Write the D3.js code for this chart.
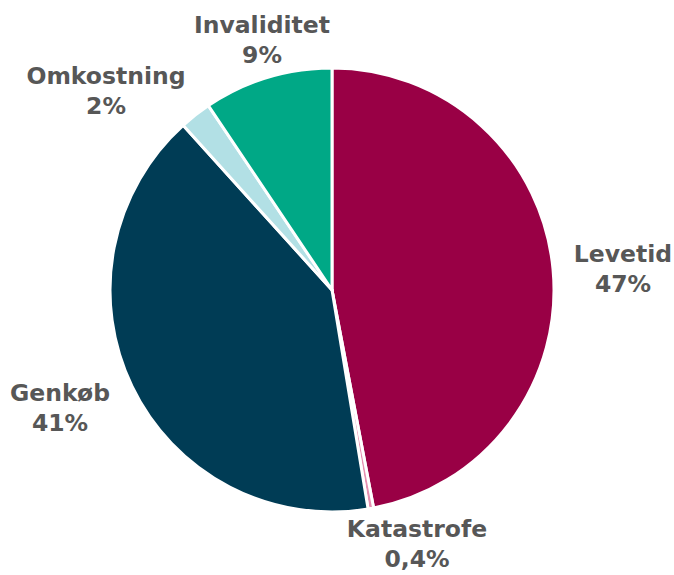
<!DOCTYPE html>
<html><head><meta charset="utf-8">
<script src="https://cdn.jsdelivr.net/npm/d3@7"></script>
<style>body{margin:0;background:#fff}svg{display:block}</style>
</head><body>
<svg id="c" width="674" height="575"></svg>
<script>
const categories = ["Levetid", "Katastrofe", "Genkøb", "Omkostning", "Invaliditet"];
const values = [47.0, 0.4, 40.9, 2.3, 9.4];
const valueLabels = ["47%", "0,4%", "41%", "2%", "9%"];
const colors = ["#990045", "#e58fb0", "#003c55", "#b2e0e5", "#00a886"];
// label anchor positions (center x, baseline of first line)
const labelPos = [[623, 262], [417, 537], [60, 401], [106, 84], [262, 33]];

const svg = d3.select("#c");
const cx = 332, cy = 290, r = 222;
const pie = d3.pie().sort(null).value(d => d.v);
const arc = d3.arc().innerRadius(0).outerRadius(r);
const data = categories.map((c, i) => ({c, v: values[i], i}));
const g = svg.append("g").attr("transform", `translate(${cx},${cy})`);
g.selectAll("path").data(pie(data)).join("path")
  .attr("d", arc)
  .attr("fill", d => colors[d.data.i])
  .attr("stroke", "#fff").attr("stroke-width", 3).attr("stroke-linejoin", "round");

const lab = svg.append("g").attr("font-family", "DejaVu Sans, Verdana, sans-serif")
  .attr("font-weight", "bold").attr("font-size", 23.5).attr("fill", "#575757")
  .attr("text-anchor", "middle");
data.forEach((d, i) => {
  const t = lab.append("text").attr("x", labelPos[i][0]).attr("y", labelPos[i][1]);
  t.append("tspan").attr("x", labelPos[i][0]).text(d.c);
  t.append("tspan").attr("x", labelPos[i][0]).attr("dy", 30).text(valueLabels[i]);
});
</script>
</body></html>
